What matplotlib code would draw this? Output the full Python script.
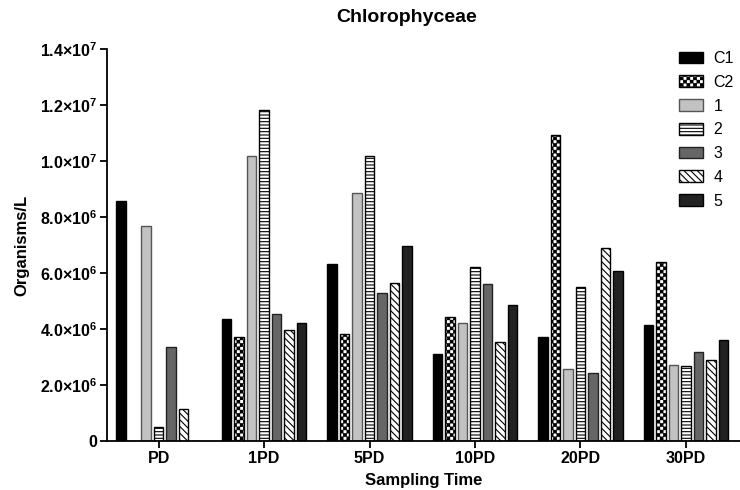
import warnings
import numpy as np
import matplotlib
matplotlib.use('Agg')
import matplotlib.pyplot as plt
from matplotlib import hatch as mhatch
from matplotlib.path import Path

warnings.filterwarnings('ignore')

groups = ['PD', '1PD', '5PD', '10PD', '20PD', '30PD']
series = ['C1', 'C2', '1', '2', '3', '4', '5']

c1 = [8.58e6, 4.35e6, 6.32e6, 3.11e6, 3.73e6, 4.14e6]
c2 = [0.0, 3.73e6, 3.82e6, 4.44e6, 10.93e6, 6.40e6]
t1 = [7.69e6, 10.19e6, 8.85e6, 4.20e6, 2.56e6, 2.71e6]
t2 = [0.51e6, 11.83e6, 10.19e6, 6.23e6, 5.51e6, 2.69e6]
t3 = [3.36e6, 4.52e6, 5.27e6, 5.60e6, 2.42e6, 3.18e6]
t4 = [1.15e6, 3.96e6, 5.63e6, 3.54e6, 6.88e6, 2.89e6]
t5 = [0.0, 4.20e6, 6.96e6, 4.84e6, 6.07e6, 3.61e6]
values = [c1, c2, t1, t2, t3, t4, t5]


# checkerboard hatch ('c'), not in matplotlib by default
class CheckerHatch(mhatch.HatchPatternBase):
    def __init__(self, hatch, density):
        n = hatch.count('c') * density
        sq = []
        m = 0.12 / max(n, 1)
        for r in range(n):
            for c in range(n):
                if (r + c) % 2 == 0:
                    x0, y0 = c / n + m, r / n + m
                    x1, y1 = (c + 1) / n - m, (r + 1) / n - m
                    sq.append([[x0, y0], [x1, y0], [x1, y1], [x0, y1], [x0, y0]])
        self.verts = np.array(sq, dtype=float).reshape(-1, 2) if sq else np.zeros((0, 2))
        self.num_vertices = len(self.verts)

    def set_vertices_and_codes(self, vertices, codes):
        vertices[:] = self.verts
        codes[:] = np.tile([Path.MOVETO, Path.LINETO, Path.LINETO,
                            Path.LINETO, Path.CLOSEPOLY], len(self.verts) // 5)


mhatch._hatch_types.append(CheckerHatch)

plt.rcParams['font.family'] = 'Liberation Sans'
plt.rcParams['mathtext.fontset'] = 'custom'
plt.rcParams['mathtext.rm'] = 'Liberation Sans:bold'
plt.rcParams['mathtext.bf'] = 'Liberation Sans:bold'
plt.rcParams['mathtext.it'] = 'Liberation Sans:bold'
plt.rcParams['hatch.linewidth'] = 0.8

styles = [
    dict(color='#000000', edgecolor='black', hatch=None),
    dict(color='white', edgecolor='black', hatch='ccccc'),
    dict(color='#c2c2c2', edgecolor='#555555', hatch=None),
    dict(color='white', edgecolor='black', hatch='-----'),
    dict(color='#666666', edgecolor='#222222', hatch=None),
    dict(color='white', edgecolor='black', hatch='\\\\\\\\\\'),
    dict(color='#222222', edgecolor='black', hatch=None),
]

fig = plt.figure(figsize=(7.4, 4.9), dpi=100)
ax = fig.add_axes([0.1446, 0.1, 0.855, 0.8])

x = np.arange(len(groups))
step = 0.1185
width = 0.09
for i, (name, vals, st) in enumerate(zip(series, values, styles)):
    ax.bar(x + (i - 3) * step, vals, width=width, color=st['color'],
           edgecolor=st['edgecolor'], hatch=st['hatch'], linewidth=1.0,
           label=name)

ax.set_xlim(-0.49, 5.51)
ax.set_ylim(0, 1.4e7)
yt = np.arange(0, 1.41e7, 2e6)
ylabels = ['0']
for v in yt[1:]:
    e = int(np.floor(np.log10(v)))
    ylabels.append(r'$\mathbf{%.1f{\times}10^{%d}}$' % (v / 10 ** e, e))
ax.set_yticks(yt, ylabels)
ax.set_xticks(x, groups)
for lab in ax.get_xticklabels() + ax.get_yticklabels():
    lab.set_fontweight('bold')
    lab.set_fontsize(11.5)

for s in ['top', 'right']:
    ax.spines[s].set_visible(False)
for s in ['left', 'bottom']:
    ax.spines[s].set_linewidth(1.3)
ax.tick_params(axis='both', direction='out', width=1.3, length=5, pad=2)

ax.set_ylabel('Organisms/L', fontsize=12, fontweight='bold', labelpad=8)
ax.set_xlabel('Sampling Time', fontsize=12, fontweight='bold', labelpad=5)
fig.text(0.55, 0.965, 'Chlorophyceae', fontsize=14, fontweight='bold',
         ha='center', va='center')

# the source crops "C1"/"C2" at the edge; pulled in a bit so they stay whole
ax.legend(loc='upper left', bbox_to_anchor=(0.917, 0.896),
          bbox_transform=fig.transFigure, frameon=False, fontsize=11.5,
          handlelength=1.5, handleheight=0.75, handletextpad=0.7,
          labelspacing=0.55, borderaxespad=0, borderpad=0)

fig.savefig('out.png', dpi=100)
